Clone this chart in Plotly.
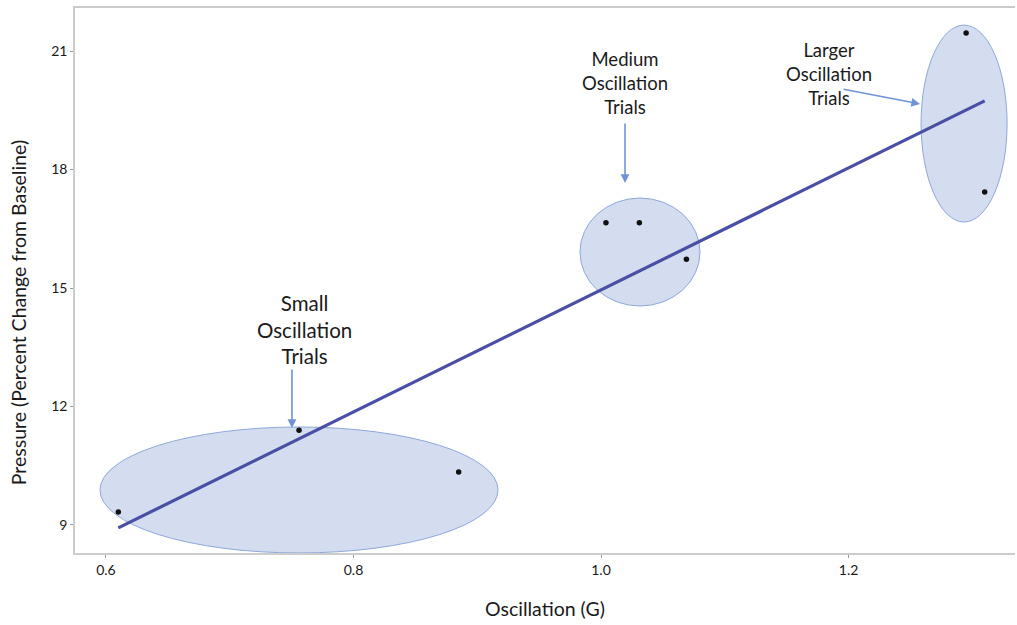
import numpy as np
import plotly.graph_objects as go

# Trial measurements
oscillation_g = [0.610, 0.756, 0.885, 1.004, 1.031, 1.069, 1.295, 1.310]
pressure_pct = [9.33, 11.40, 10.34, 16.65, 16.65, 15.73, 21.46, 17.43]

x_ticks = [0.6, 0.8, 1.0, 1.2]
y_ticks = [9, 12, 15, 18, 21]

# Trial groups: label, ellipse bounds (x0, x1, y0, y1), arrow head, label position
group_labels = ["Small<br>Oscillation<br>Trials",
                "Medium<br>Oscillation<br>Trials",
                "Larger<br>Oscillation<br>Trials"]
group_bounds = [(0.5952, 0.9168, 8.291, 11.481),
                (0.9830, 1.0800, 14.544, 17.278),
                (1.2586, 1.3281, 16.671, 21.658)]
arrow_heads = [(0.7503, 11.456), (1.0194, 17.66), (1.2578, 19.66)]
arrow_offsets = [(0, -60), (0, -61), (-78, -15)]
label_pos = [(0.7608, 13.94), (1.0194, 20.19), (1.1842, 20.42)]
label_sizes = [20.5, 18.5, 18.5]

# Least-squares fit line across the data range
slope, intercept = np.polyfit(oscillation_g, pressure_pct, 1)
fit_x = np.array([min(oscillation_g), max(oscillation_g)])
fit_y = slope * fit_x + intercept

font_family = "Lato, 'Open Sans', sans-serif"

fig = go.Figure()
fig.add_trace(go.Scatter(x=fit_x, y=fit_y, mode="lines",
                         line=dict(color="#4a4fa6", width=3.2),
                         showlegend=False, hoverinfo="skip"))
fig.add_trace(go.Scatter(x=oscillation_g, y=pressure_pct, mode="markers",
                         marker=dict(color="#111111", size=5.5),
                         showlegend=False))

for (x0, x1, y0, y1) in group_bounds:
    fig.add_shape(type="circle", xref="x", yref="y", x0=x0, x1=x1, y0=y0, y1=y1,
                  fillcolor="rgba(184,197,228,0.6)",
                  line=dict(color="#8ea8da", width=1), layer="below")

for text, (hx, hy), (ax, ay), (lx, ly), size in zip(group_labels, arrow_heads,
                                                    arrow_offsets, label_pos, label_sizes):
    fig.add_annotation(x=hx, y=hy, xref="x", yref="y", ax=ax, ay=ay, text="",
                       showarrow=True, arrowhead=2, arrowsize=1.1, arrowwidth=1.6,
                       arrowcolor="#7093d6")
    fig.add_annotation(x=lx, y=ly, xref="x", yref="y", text=text, showarrow=False,
                       font=dict(family=font_family, size=size, color="#1a1a1a"),
                       align="center")

# Axis titles
fig.add_annotation(x=0.5, y=0, xref="paper", yref="paper", yshift=-55,
                   text="Oscillation (G)", showarrow=False, yanchor="middle",
                   font=dict(family=font_family, size=19.5, color="#1a1a1a"))
fig.add_annotation(x=0, y=0.44, xref="paper", yref="paper", xshift=-57,
                   text="Pressure (Percent Change from Baseline)", showarrow=False,
                   textangle=-90, xanchor="center",
                   font=dict(family=font_family, size=19.5, color="#1a1a1a"))

axis_common = dict(showgrid=False, zeroline=False, showline=True, linecolor="#cccccc",
                   linewidth=1.5, ticks="outside", ticklen=3, tickcolor="#999999",
                   tickfont=dict(family=font_family, size=14, color="#1a1a1a"))

fig.update_xaxes(range=[0.575, 1.3345], tickvals=x_ticks,
                 ticktext=[f"{v:.1f}" for v in x_ticks], mirror=True, **axis_common)
fig.update_yaxes(range=[8.29, 22.09], tickvals=y_ticks,
                 ticktext=[str(v) for v in y_ticks], **axis_common)

fig.update_layout(width=1017, height=625, margin=dict(l=75, r=2, t=8, b=72),
                  plot_bgcolor="white", paper_bgcolor="white",
                  font=dict(family=font_family))

fig.write_html("out.html")
